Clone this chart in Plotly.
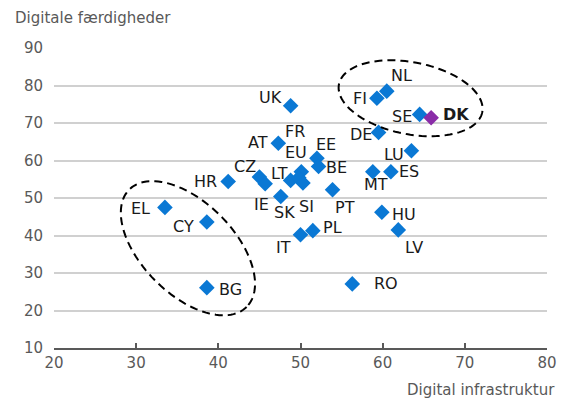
import numpy as np
import plotly.graph_objects as go

countries = ["UK", "NL", "FI", "SE", "DK", "DE", "LU", "AT", "EE", "BE", "MT", "ES",
             "HU", "LV", "RO", "PT", "PL", "IT", "HR", "EL", "CY", "BG", "CZ", "IE",
             "SK", "LT", "FR", "EU", "SI"]
infrastructure = [48.8, 60.5, 59.3, 64.5, 65.9, 59.5, 63.5, 47.3, 52.0, 52.2, 58.8, 61.0,
                  59.9, 61.9, 56.3, 53.9, 51.5, 50.0, 41.2, 33.5, 38.6, 38.6, 45.0, 45.7,
                  47.6, 48.8, 50.1, 49.8, 50.3]
skills = [74.6, 78.5, 76.6, 72.3, 71.4, 67.5, 62.6, 64.6, 60.6, 58.4, 57.0, 57.0,
          46.2, 41.5, 27.1, 52.2, 41.3, 40.2, 54.4, 47.5, 43.6, 26.1, 55.6, 53.8,
          50.4, 54.7, 57.0, 55.4, 54.0]

x_ticks = [20, 30, 40, 50, 60, 70, 80]
y_ticks = [10, 20, 30, 40, 50, 60, 70, 80, 90]

# label offsets in pixels (dx right, dy down)
label_offsets = {
    "UK": (-20, -8), "NL": (15, -16), "FI": (-17, 0), "SE": (-18, 2), "DK": (25, -3),
    "DE": (-18, 2), "LU": (-17, 4), "AT": (-20, -1), "EE": (9, -14), "BE": (18, 1),
    "MT": (3, 13), "ES": (18, 0), "HU": (22, 2), "LV": (16, 18), "RO": (34, 0),
    "PT": (12, 18), "PL": (20, -3), "IT": (-17, 13), "HR": (-23, 0), "EL": (-24, 1),
    "CY": (-23, 4), "BG": (24, 2), "CZ": (-14, -11), "IE": (-4, 21), "SK": (4, 16),
    "LT": (-11, -7), "FR": (-6, -40), "EU": (-3, -25), "SI": (4, 23),
}

BLUE = "#0a78d4"
PURPLE = "#8a2ca8"
colors = [PURPLE if c == "DK" else BLUE for c in countries]

fig = go.Figure()
fig.add_trace(go.Scatter(
    x=infrastructure, y=skills, mode="markers",
    marker=dict(symbol="diamond", size=12, color=colors, line=dict(width=0)),
    hoverinfo="text", text=countries, showlegend=False,
))

# page body adds an 8px offset; margins compensate for it
W, H = 566, 401
ml, mr, mt, mb = 46, 27, 40, 61
px_per_x = (W - ml - mr) / (x_ticks[-1] - x_ticks[0])
px_per_y = (H - mt - mb) / (y_ticks[-1] - y_ticks[0])


def ellipse_path(cx, cy, a_px, b_px, theta_deg, n=120):
    t = np.linspace(0, 2 * np.pi, n)
    th = np.radians(theta_deg)
    ex = a_px * np.cos(t)
    ey = b_px * np.sin(t)
    rx = ex * np.cos(th) - ey * np.sin(th)
    ry = ex * np.sin(th) + ey * np.cos(th)
    xs = cx + rx / px_per_x
    ys = cy - ry / px_per_y
    pts = [f"{x:.3f},{y:.3f}" for x, y in zip(xs, ys)]
    return "M " + " L ".join(pts) + " Z"


for (cx, cy, a, b, th) in [(63.4, 76.6, 73, 36, 11), (36.3, 36.6, 83, 46, 45)]:
    fig.add_shape(type="path", path=ellipse_path(cx, cy, a, b, th),
                  xref="x", yref="y",
                  line=dict(color="black", width=2, dash="8px,5px"))

FONT = "DejaVu Sans"
for c, xv, yv in zip(countries, infrastructure, skills):
    dx, dy = label_offsets[c]
    fig.add_annotation(
        x=xv, y=yv, xref="x", yref="y", text=f"<b>{c}</b>" if c == "DK" else c,
        showarrow=False, xshift=dx, yshift=-dy, xanchor="center", yanchor="middle",
        font=dict(family=FONT, size=16, color="#1a1a1a"),
    )

fig.add_annotation(x=0, y=1, xref="paper", yref="paper", text="Digitale færdigheder",
                   showarrow=False, xanchor="left", yanchor="middle", xshift=-41, yshift=30,
                   font=dict(family=FONT, size=15, color="#595959"))
fig.add_annotation(x=1, y=0, xref="paper", yref="paper", text="Digital infrastruktur",
                   showarrow=False, xanchor="right", yanchor="middle", xshift=10, yshift=-42,
                   font=dict(family=FONT, size=15, color="#595959"))

fig.update_xaxes(range=[x_ticks[0], x_ticks[-1]], tickvals=x_ticks, showgrid=False,
                 zeroline=False, showline=True, linecolor="#595959", linewidth=1.5,
                 ticks="inside", ticklen=5, tickcolor="#595959", tickwidth=1.5,
                 tickfont=dict(family=FONT, size=15, color="#595959"))
fig.update_yaxes(range=[y_ticks[0], y_ticks[-1]], tickvals=y_ticks, showgrid=True,
                 gridcolor="#d0d0d0", gridwidth=2, zeroline=False, showline=False,
                 ticks="", ticklabelstandoff=10,
                 tickfont=dict(family=FONT, size=15, color="#595959"))

fig.update_layout(width=W, height=H, margin=dict(l=ml, r=mr, t=mt, b=mb),
                  plot_bgcolor="white", paper_bgcolor="white")

fig.write_html("out.html")
